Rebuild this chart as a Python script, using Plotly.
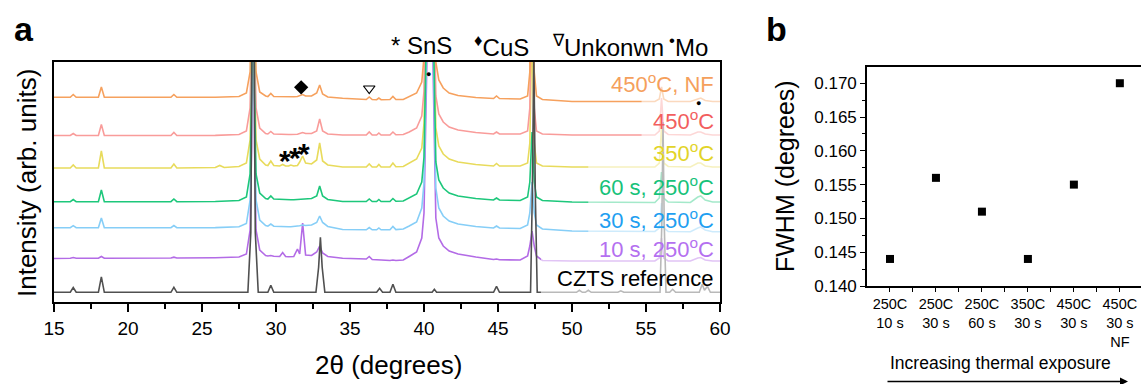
import plotly.graph_objects as go

# ---------------- DATA ----------------
# (a) XRD patterns: shared 2-theta vertices for the six annealed samples
two_theta = [15.0, 16.1, 16.3, 16.5, 18.0, 18.2, 18.4, 22.9, 23.1, 23.3,
             25.9, 26.2, 26.5, 27.5, 28.0, 28.25, 28.35, 28.45, 28.55, 28.65,
             28.9, 29.3, 29.45, 29.65, 29.85, 30.25, 30.45, 30.65, 30.85, 31.0,
             31.2, 31.45, 31.6, 31.8, 32.0, 32.4, 32.75, 32.95, 33.15, 33.5,
             34.5, 36.1, 36.3, 36.5, 36.8, 36.95, 37.1, 37.7, 37.9, 38.1,
             38.6, 39.0, 39.5, 39.85, 40.0, 40.2, 40.4, 40.6, 40.8, 41.0,
             41.3, 41.7, 42.3, 43.5, 44.7, 44.9, 45.1, 46.5, 47.0, 47.15,
             47.3, 47.45, 47.6, 48.0, 50.0, 55.6, 55.9, 56.05, 56.2, 56.5,
             58.0, 58.5, 58.7, 59.0, 59.5, 60.0]

int_450_nf = [4.7, 4.7, 7.5, 4.7, 4.7, 15, 4.7, 4.7, 7.5, 4.7,
              4.8, 4.8, 4.9, 5.5, 9, 30, 110, 500, 110, 30,
              10, 6, 5.5, 8.5, 5.5, 5.3, 5.3, 5.3, 5.2, 5.2,
              5.2, 5.5, 6.5, 7.5, 6, 6, 9, 17, 8, 5,
              3.7, 2.5, 5, 2.5, 2.3, 4, 2.3, 2.5, 5.5, 2.5,
              2.5, 5.5, 9, 20, 45, 200, 600, 200, 40, 22,
              14, 9, 6.5, 4.5, 3.5, 6, 3.5, 3, 6, 30,
              250, 30, 6, 2.5, 0.5, 0.5, 3, 15, 3, 0.5,
              0.5, 3, 4, 1.5, 0.5, 0.5]
int_450 = [0.5, 0.5, 2.5, 0.5, 0.5, 11.5, 0.5, 0.5, 3.5, 0.5,
           0.6, 0.8, 0.8, 1.5, 5, 28, 110, 500, 110, 28,
           8, 2.5, 2, 4.5, 2, 1.5, 1.5, 1.5, 1.5, 1.5,
           1.5, 1.8, 2.5, 3.5, 2.5, 2.5, 5, 17, 5, 2,
           1, 1, 4, 1, 1, 3, 1, 1, 4, 1.2,
           1.5, 4, 8, 20, 45, 200, 600, 200, 40, 22,
           14, 9, 6, 3.5, 2, 4, 2, 2, 5, 28,
           200, 28, 5, 2, 1, 1, 5, 38, 5, 1.5,
           1, 4, 4, 2, 1, 1]
int_350 = [0, 0, 3, 0, 0, 17, 0, 0, 4, 0,
           0.5, 2.5, 0.5, 1.5, 5, 28, 110, 500, 110, 28,
           9, 3, 2.5, 7, 2.5, 2, 3.5, 2, 2, 3,
           2, 2.5, 6, 12, 5, 4, 8, 25, 7, 3,
           1, 1, 4, 1, 1, 3.5, 1, 1, 5, 1.2,
           1.5, 5, 9, 20, 45, 200, 600, 200, 40, 22,
           14, 9, 6, 3.5, 2, 4.5, 2, 2, 5, 25,
           150, 25, 5, 2, 1, 1, 5, 40, 5, 1.5,
           1, 5, 5, 2, 1, 1]
int_250_60s = [0.3, 0.3, 2.5, 0.3, 0.3, 12, 0.3, 0.3, 3, 0.3,
               0.5, 0.7, 0.8, 1.5, 5, 28, 110, 500, 110, 28,
               9, 3.5, 3, 6, 3, 2.5, 2.5, 2.3, 2.2, 2.2,
               2.2, 2.5, 2.8, 3.3, 3, 3.5, 6, 16, 6, 2.5,
               0.5, 0.5, 3, 0.5, 0.5, 2.5, 0.5, 0.5, 3.5, 0.7,
               1, 4, 8, 20, 45, 200, 600, 200, 40, 22,
               14, 9, 6, 3.5, 2, 4, 2, 1.5, 5, 20,
               70, 20, 5, 1.5, 0, -0.5, 4, 30, 4, 0,
               -0.5, 5, 6, 2, 0, 0]
int_250_30s = [0.3, 0.3, 2.3, 0.3, 0.3, 10, 0.3, 0.3, 2.5, 0.3,
               0.4, 0.5, 0.6, 1.3, 4.5, 28, 110, 500, 110, 28,
               8, 2.5, 1.8, 4, 1.8, 1.3, 1.3, 1.2, 1.2, 1.2,
               1.3, 1.6, 2.2, 3, 2.5, 3, 5.5, 12, 5.5, 1.5,
               -1.5, -1.8, 0.5, -1.8, -1.8, 0, -1.8, -1.8, 1.5, -1.6,
               -1, 2, 6, 20, 45, 200, 600, 200, 40, 20,
               12, 7, 4, 1.5, 0, 2, 0, -0.5, 3, 15,
               46, 15, 3, -1, -3, -3.5, 0, 25, 0, -3.5,
               -3.7, 0, 1, -2, -3.7, -3.7]
int_250_10s = [-0.5, -0.3, 0.5, -0.3, -0.2, 1.5, -0.2, 0, 0.8, 0,
               0.3, 0.4, 0.5, 1, 4, 28, 110, 500, 110, 28,
               8, 2.5, 2, 2.5, 1.8, 1.5, 5.5, 1.5, 1.2, 1.2,
               1.5, 9, 4, 35, 3, 2.5, 6, 12, 5, 1.5,
               -0.3, -1, 1.5, -1.5, -2, -2, -2, -2.5, -2, -2.5,
               -2, 1.5, 6, 20, 45, 200, 600, 200, 40, 20,
               12, 7, 4, 1, -1.5, -1, -1.8, -2, 2, 12,
               27, 12, 2, -2.5, -3, -3, 0, 20, 0, -3,
               -3, 0, 0.5, -2, -3, -3]

# CZTS reference pattern
ref_two_theta = [15.0, 16.1, 16.3, 16.5, 18.0, 18.2, 18.4, 22.9, 23.1, 23.3,
                 28.1, 28.3, 28.45, 28.6, 28.8, 29.45, 29.65, 29.85, 32.7, 32.88,
                 33.0, 33.12, 33.3, 36.8, 37.0, 37.2, 37.7, 37.9, 38.1, 40.55,
                 40.7, 40.85, 44.7, 44.9, 45.1, 47.2, 47.32, 47.42, 47.52, 47.65,
                 50.3, 50.5, 50.7, 50.9, 51.1, 51.3, 53.1, 53.3, 53.5, 55.95,
                 56.07, 56.15, 56.23, 56.35, 56.6, 56.8, 57.0, 58.6, 58.8, 58.95,
                 59.15, 59.35, 60.0]
int_ref = [0, 0, 4.7, 0, 0, 15.5, 0, 0, 5, 0,
           0, 60, 420, 60, 0, 0, 7, 0, 0, 25,
           55, 25, 0, 0, 4, 0, 0, 8, 0, 0,
           3, 0, 0, 6, 0, 0, 100, 240, 100, 0,
           0, 2, 0, 0, 2, 0, 0, 1.5, 0, 0,
           70, 170, 70, 0, 0, 3, 0, 0, 8, 2,
           6, 0, 0]

series_names = ["450<sup>o</sup>C, NF", "450<sup>o</sup>C", "350<sup>o</sup>C",
                "60 s, 250<sup>o</sup>C", "30 s, 250<sup>o</sup>C", "10 s, 250<sup>o</sup>C",
                "CZTS reference"]
stack_offsets = [200, 166, 134, 100, 74, 44, 9.7]

# phase markers (2theta, stacked intensity)
sns_x = [30.61, 31.28, 31.89]
sns_y = [144.5, 148.0, 152.0]
cus_x, cus_y = [31.70], [214.7]
unknown_x, unknown_y = [36.3], [213.5]
mo_x, mo_y = [40.3, 58.53], [228.5, 199.5]

# (b) FWHM
conditions = ["250C<br>10 s", "250C<br>30 s", "250C<br>60 s",
              "350C<br>30 s", "450C<br>30 s", "450C<br>30 s<br>NF"]
fwhm = [0.144, 0.156, 0.151, 0.144, 0.155, 0.170]

# ---------------- STYLE ----------------
W, H = 1141, 384
FONT = "Liberation Sans, Arial, Helvetica, sans-serif"
line_colors = ["#F6A15E", "#F99C9A", "#E8DB5C", "#1DC77B", "#86CEF7", "#B36BE6", "#505050"]
text_colors = ["#F5A05C", "#F25E5E", "#E2D428", "#17C27A", "#1F9FF1", "#B470F0", "#000000"]


def px(xp):
    return xp / W


def py(yp):
    return 1 - yp / H


fig = go.Figure()

sample_sets = [int_450_nf, int_450, int_350, int_250_60s, int_250_30s, int_250_10s]
draw_order = [5, 4, 2, 1, 0, 3]
for i in draw_order:
    vals = sample_sets[i]
    fig.add_trace(go.Scatter(x=two_theta, y=[v + stack_offsets[i] for v in vals],
                             mode="lines", line=dict(color=line_colors[i], width=1.6),
                             xaxis="x", yaxis="y", showlegend=False, hoverinfo="skip"))
fig.add_trace(go.Scatter(x=ref_two_theta, y=[v + stack_offsets[6] for v in int_ref],
                         mode="lines", line=dict(color=line_colors[6], width=1.6),
                         xaxis="x", yaxis="y", showlegend=False, hoverinfo="skip"))

# phase markers
fig.add_trace(go.Scatter(x=cus_x, y=cus_y, mode="markers",
                         marker=dict(symbol="diamond", size=11, color="black"),
                         xaxis="x", yaxis="y", showlegend=False, hoverinfo="skip"))
fig.add_trace(go.Scatter(x=unknown_x, y=unknown_y, mode="markers",
                         marker=dict(symbol="triangle-down-open", size=10, color="black",
                                     line=dict(width=1.2)),
                         xaxis="x", yaxis="y", showlegend=False, hoverinfo="skip"))

# FWHM scatter
fig.add_trace(go.Scatter(x=list(range(1, len(fwhm) + 1)), y=fwhm, mode="markers",
                         marker=dict(symbol="square", size=8, color="black"),
                         xaxis="x2", yaxis="y2", showlegend=False, hoverinfo="skip"))

annotations = []
# Mo dots drawn as text so they sit above the fading boxes
for xm, ym in zip(mo_x, mo_y):
    annotations.append(dict(x=xm, y=ym, xref="x", yref="y", text="\u25cf", showarrow=False,
                            xanchor="center", yanchor="middle",
                            font=dict(family=FONT, size=9, color="black")))
# stacked labels
label_y = [219, 182.5, 150, 116.5, 83, 54, 24]
for i, name in enumerate(series_names):
    annotations.append(dict(x=59.75, y=label_y[i], xref="x", yref="y", text=name,
                            showarrow=False, xanchor="right", yanchor="middle",
                            font=dict(family=FONT, size=22, color=text_colors[i])))
# SnS asterisks
for xs, ys in zip(sns_x, sns_y):
    annotations.append(dict(x=xs, y=ys - 3, xref="x", yref="y", text="<b>*</b>",
                            showarrow=False, xanchor="center", yanchor="middle",
                            font=dict(family=FONT, size=30, color="black")))
# phase legend on top
legend_items = [("* SnS", 389), ("<sup>\u2666</sup>CuS", 472),
                ("<sup>\u2207</sup>Unkonwn", 550), ("<sup>\u2022</sup>Mo", 667)]
for txt, xl in legend_items:
    annotations.append(dict(x=px(xl), y=py(46), xref="paper", yref="paper", text=txt,
                            showarrow=False, xanchor="left", yanchor="middle",
                            font=dict(family=FONT, size=24, color="black")))
# panel letters
annotations.append(dict(x=px(12), y=py(29), xref="paper", yref="paper", text="<b>a</b>",
                        showarrow=False, xanchor="left", yanchor="middle",
                        font=dict(family=FONT, size=34, color="black")))
annotations.append(dict(x=px(764), y=py(29), xref="paper", yref="paper", text="<b>b</b>",
                        showarrow=False, xanchor="left", yanchor="middle",
                        font=dict(family=FONT, size=34, color="black")))
# axis titles
annotations.append(dict(x=px(388), y=py(365), xref="paper", yref="paper",
                        text="2\u03b8 (degrees)", showarrow=False, xanchor="center",
                        yanchor="middle", font=dict(family=FONT, size=26, color="black")))
annotations.append(dict(x=px(27), y=py(183), xref="paper", yref="paper",
                        text="Intensity (arb. units)", showarrow=False, textangle=-90,
                        xanchor="center", yanchor="middle",
                        font=dict(family=FONT, size=26, color="black")))
annotations.append(dict(x=px(785), y=py(176), xref="paper", yref="paper",
                        text="FWHM (degrees)", showarrow=False, textangle=-90,
                        xanchor="center", yanchor="middle",
                        font=dict(family=FONT, size=25, color="black")))
annotations.append(dict(x=px(1000), y=py(363), xref="paper", yref="paper",
                        text="Increasing thermal exposure", showarrow=False,
                        xanchor="center", yanchor="middle",
                        font=dict(family=FONT, size=17.5, color="black")))
annotations.append(dict(x=px(1128), y=py(381.5), xref="paper", yref="paper", text="",
                        showarrow=True, ax=-242, ay=0, arrowhead=2, arrowsize=1,
                        arrowwidth=1.6, arrowcolor="black"))

# semi-transparent boxes behind the labels (fade the curves)
shapes = [
    dict(type="rect", xref="x", yref="y", x0=54.7, x1=60, y0=162, y1=232,
         fillcolor="white", opacity=0.6, line=dict(width=0), layer="above"),
    dict(type="rect", xref="x", yref="y", x0=51.1, x1=60, y0=66, y1=162,
         fillcolor="white", opacity=0.6, line=dict(width=0), layer="above"),
    dict(type="rect", xref="x", yref="y", x0=47.9, x1=60, y0=0.5, y1=66,
         fillcolor="white", opacity=0.6, line=dict(width=0), layer="above"),
]

axis_common = dict(showline=True, linecolor="black", linewidth=1.6, mirror=True,
                   showgrid=False, zeroline=False, automargin=False)

fig.update_layout(
    width=W, height=H, margin=dict(l=0, r=0, t=0, b=0),
    paper_bgcolor="white", plot_bgcolor="white", template="none",
    font=dict(family=FONT, color="black"),
    xaxis=dict(domain=[px(54), px(720)], range=[15, 60], dtick=5, tick0=15,
               ticks="outside", ticklen=8, tickwidth=1.5, tickcolor="black",
               tickfont=dict(family=FONT, size=19, color="black"),
               minor=dict(dtick=2.5, tick0=15, ticks="outside", ticklen=5,
                          tickwidth=1.5, tickcolor="black"),
               anchor="y", **axis_common),
    yaxis=dict(domain=[py(302), py(62)], range=[0, 240], showticklabels=False,
               ticks="", anchor="x", **axis_common),
    xaxis2=dict(domain=[px(867), 1.0], range=[0.5, 6.46],
                tickmode="array", tickvals=list(range(1, len(conditions) + 1)),
                ticktext=conditions, ticks="outside", ticklen=4, tickwidth=1.2,
                tickcolor="black", tickfont=dict(family=FONT, size=14.5, color="black"),
                minor=dict(tickmode="array", tickvals=[1.5, 2.5, 3.5, 4.5, 5.5],
                           ticks="outside", ticklen=4, tickwidth=1.2, tickcolor="black"),
                anchor="y2", **axis_common),
    yaxis2=dict(domain=[py(286), py(67)], range=[0.140, 0.1724], dtick=0.005, tick0=0.14,
                tickformat=".3f", ticks="outside", ticklen=5, tickwidth=1.2,
                tickcolor="black", tickfont=dict(family=FONT, size=17, color="black"),
                minor=dict(dtick=0.0025, tick0=0.14, ticks="outside", ticklen=3,
                           tickwidth=1.2, tickcolor="black"),
                anchor="x2", **axis_common),
    annotations=annotations,
    shapes=shapes,
)

fig.write_html("out.html", config={"displayModeBar": False},
               post_script="document.body.style.margin='0';document.body.style.overflow='hidden';")
